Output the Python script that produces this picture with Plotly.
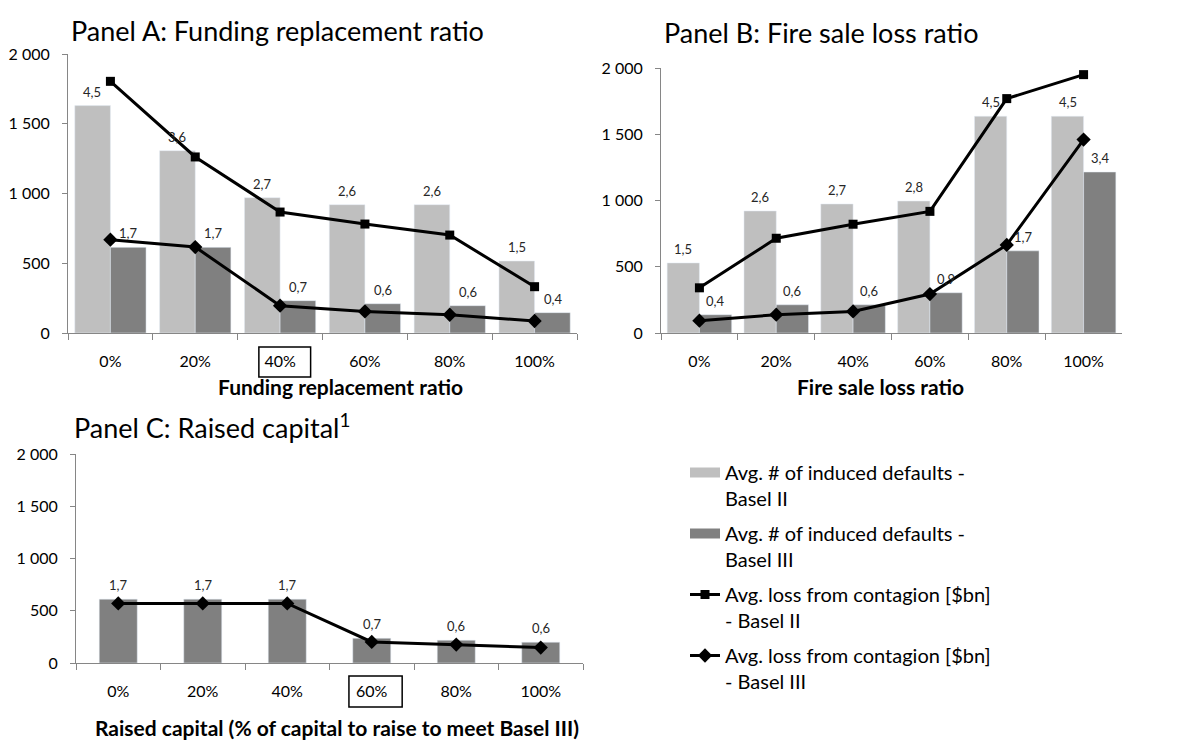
import plotly.graph_objects as go

# categories (x tick labels)
cats = ["0%", "20%", "40%", "60%", "80%", "100%"]

# Panel A: funding replacement ratio
a_bar_b2 = [1630, 1307, 970, 920, 920, 516]
a_bar_b3 = [614, 614, 232, 210, 196, 146]
a_lbl_b2 = [4.5, 3.6, 2.7, 2.6, 2.6, 1.5]
a_lbl_b3 = [1.7, 1.7, 0.7, 0.6, 0.6, 0.4]
a_loss_b2 = [1804, 1262, 867, 781, 702, 332]
a_loss_b3 = [669, 616, 196, 155, 131, 86]

# Panel B: fire sale loss ratio
b_bar_b2 = [529, 921, 974, 996, 1636, 1636]
b_bar_b3 = [138, 213, 213, 304, 620, 1215]
b_lbl_b2 = [1.5, 2.6, 2.7, 2.8, 4.5, 4.5]
b_lbl_b3 = [0.4, 0.6, 0.6, 0.9, 1.7, 3.4]
b_loss_b2 = [341, 715, 821, 918, 1769, 1950]
b_loss_b3 = [93, 138, 163, 294, 665, 1460]

# Panel C: raised capital
c_bar_b3 = [611, 611, 611, 237, 218, 199]
c_lbl_b3 = [1.7, 1.7, 1.7, 0.7, 0.6, 0.6]
c_loss_b3 = [570, 570, 570, 202, 176, 148]

LIGHT = "#BFBFBF"
DARK = "#808080"
AXIS = "#868686"
FONT = "Lato"
OFF = 8  # page body margin
W, H = 1201 - OFF, 742 - OFF

names = ["Avg. # of induced defaults -<br>Basel II",
         "Avg. # of induced defaults -<br>Basel III",
         "Avg. loss from contagion [$bn]<br>- Basel II",
         "Avg. loss from contagion [$bn]<br>- Basel III"]


def fmt(v):
    return f"{v:.1f}".replace(".", ",")


def px(x):
    return (x - OFF) / W


def py(y):
    return 1 - (y - OFF) / H


fig = go.Figure()

# legend-only swatches for the bar series (wide rectangles like the original legend)
for i, col in enumerate([LIGHT, DARK]):
    fig.add_trace(go.Scatter(x=[None], y=[None], mode="lines", name=names[i], legendgroup="g%d" % i,
                             line=dict(color=col, width=13)))


def add_panel(n, bars2, bars3, loss2, loss3, legend):
    xa, ya = "x" + n, "y" + n
    if bars2 is not None:
        fig.add_trace(go.Bar(x=cats, y=bars2, width=0.42, offset=-0.42, marker_color=LIGHT,
                             name=names[0], showlegend=False, xaxis=xa, yaxis=ya))
        fig.add_trace(go.Bar(x=cats, y=bars3, width=0.42, offset=0, marker_color=DARK,
                             name=names[1], showlegend=False, xaxis=xa, yaxis=ya))
    else:
        fig.add_trace(go.Bar(x=cats, y=bars3, width=0.45, offset=-0.225, marker_color=DARK,
                             name=names[1], showlegend=False, xaxis=xa, yaxis=ya))
    if loss2 is not None:
        fig.add_trace(go.Scatter(x=cats, y=loss2, mode="lines+markers", name=names[2], legendgroup="g2",
                                 line=dict(color="black", width=3),
                                 marker=dict(symbol="square", size=9, color="black"),
                                 showlegend=legend, xaxis=xa, yaxis=ya))
    fig.add_trace(go.Scatter(x=cats, y=loss3, mode="lines+markers", name=names[3], legendgroup="g3",
                             line=dict(color="black", width=3),
                             marker=dict(symbol="diamond", size=11, color="black"),
                             showlegend=legend, xaxis=xa, yaxis=ya))


add_panel("", a_bar_b2, a_bar_b3, a_loss_b2, a_loss_b3, True)
add_panel("2", b_bar_b2, b_bar_b3, b_loss_b2, b_loss_b3, False)
add_panel("3", None, c_bar_b3, None, c_loss_b3, False)

# data labels above the bars
ann = []
def bar_labels(xref, yref, vals, lbls, shift):
    for c, v, l in zip(cats, vals, lbls):
        ann.append(dict(x=c, y=v, xref=xref, yref=yref, text=fmt(l), showarrow=False,
                        xshift=shift, yshift=14, yanchor="middle",
                        font=dict(size=13, color="#262626", family=FONT)))

bar_labels("x", "y", a_bar_b2, a_lbl_b2, -18)
bar_labels("x", "y", a_bar_b3, a_lbl_b3, 18)
bar_labels("x2", "y2", b_bar_b2, b_lbl_b2, -16)
bar_labels("x2", "y2", b_bar_b3, b_lbl_b3, 16)
bar_labels("x3", "y3", c_bar_b3, c_lbl_b3, 0)

# panel titles and axis titles
def txt(x, y, s, size, bold=False, anchor="left"):
    ann.append(dict(x=px(x), y=py(y), xref="paper", yref="paper", text=s, showarrow=False,
                    xanchor=anchor, yanchor="middle",
                    font=dict(size=size, color="black", family=FONT,
                              weight="bold" if bold else "normal")))

txt(69, 30, "Panel A: Funding replacement ratio", 27)
txt(662, 32, "Panel B: Fire sale loss ratio", 27)
txt(72, 426, "Panel C: Raised capital<sup>1</sup>", 27)
txt(340, 386, "Funding replacement ratio", 21, True, "center")
txt(880, 386, "Fire sale loss ratio", 21, True, "center")
txt(337, 727, "Raised capital (% of capital to raise to meet Basel III)", 21, True, "center")

fig.update_layout(annotations=ann)

# boxes around the base-case category
fig.add_shape(type="rect", xref="x", yref="y domain", x0=1.75, x1=2.36, y0=-0.05, y1=-0.158,
              line=dict(color="black", width=1.5))
fig.add_shape(type="rect", xref="x3", yref="y3 domain", x0=2.73, x1=3.36, y0=-0.062, y1=-0.211,
              line=dict(color="black", width=1.5))

xdom = {"": (68, 577), "2": (661, 1122), "3": (76, 583)}
ydom = {"": (54, 333), "2": (68, 333), "3": (454, 663)}
for n in ["", "2", "3"]:
    fig.update_layout(**{
        "xaxis" + n: dict(domain=[px(xdom[n][0]), px(xdom[n][1])], anchor="y" + n,
                          type="category", range=[-0.5, 5.5], tickson="boundaries",
                          ticks="outside", ticklen=6, tickcolor=AXIS, showline=True,
                          linecolor=AXIS, linewidth=1, showgrid=False, ticklabelstandoff=14,
                          automargin=False,
                          tickfont=dict(size=16, color="black", family=FONT)),
        "yaxis" + n: dict(domain=[py(ydom[n][1]), py(ydom[n][0])], anchor="x" + n,
                          range=[0, 2000], tickvals=[0, 500, 1000, 1500, 2000],
                          separatethousands=True, ticks="outside", ticklen=5, tickcolor=AXIS,
                          showline=True, linecolor=AXIS, linewidth=1, showgrid=False,
                          zeroline=False, ticklabelstandoff=9, automargin=False,
                          tickfont=dict(size=16, color="black", family=FONT)),
    })

fig.update_layout(
    width=W, height=H, margin=dict(l=0, r=0, t=0, b=0),
    separators=", ", barmode="overlay",
    plot_bgcolor="white", paper_bgcolor="white",
    font=dict(family=FONT, color="black"),
    legend=dict(x=px(685), y=py(453), xanchor="left", yanchor="top", valign="top",
                font=dict(size=20, family=FONT, color="black"),
                tracegroupgap=6, itemwidth=30, bgcolor="rgba(0,0,0,0)"),
)

fig.write_html("out.html")
